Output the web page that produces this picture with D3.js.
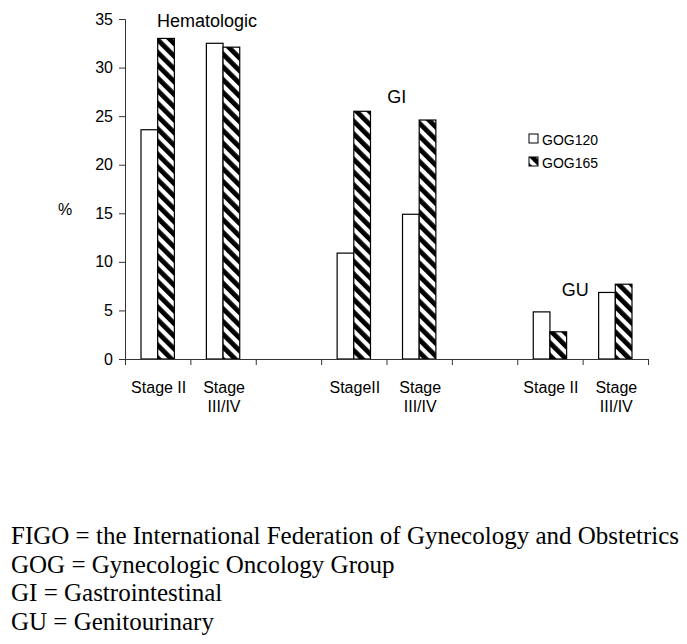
<!DOCTYPE html>
<html>
<head>
<meta charset="utf-8">
<script src="https://cdn.jsdelivr.net/npm/d3@7"></script>
<style>
  body { margin: 0; background: #fff; }
  svg { display: block; }
  .tick text { font-family: "Liberation Sans", Arial, sans-serif; font-size: 16px; fill: #000; }
</style>
</head>
<body>
<script>
// categories (empty ones are the gaps between groups)
let categories = [["Stage II"], ["Stage", "III/IV"], [""], ["StageII"], ["Stage", "III/IV"], [""], ["Stage II"], ["Stage", "III/IV"]];
let seriesNames = ["GOG120", "GOG165"];
let gog120 = [23.6, 32.5, null, 10.9, 14.9, null, 4.85, 6.85];
let gog165 = [33.0, 32.1, null, 25.5, 24.6, null, 2.8, 7.7];
let yTicks = [0, 5, 10, 15, 20, 25, 30, 35];
// group labels: x in category units, y in %
let groupLabels = [
  {text: "Hematologic", x: 0.49, y: 34.2},
  {text: "GI", x: 4.01, y: 26.35},
  {text: "GU", x: 6.68, y: 6.5}
];
let footnotes = [
  "FIGO = the International Federation of Gynecology and Obstetrics",
  "GOG = Gynecologic Oncology Group",
  "GI = Gastrointestinal",
  "GU = Genitourinary"
];

let width = 687, height = 644;
let margin = {top: 19, left: 125, right: 39, bottom: 285};

let svg = d3.select("body").append("svg")
    .attr("width", width)
    .attr("height", height);

svg.append("rect").attr("width", width).attr("height", height).attr("fill", "#fff");

// hatch pattern
let defs = svg.append("defs");
let pat = defs.append("pattern")
    .attr("id", "hatch")
    .attr("patternUnits", "userSpaceOnUse")
    .attr("width", 9)
    .attr("height", 9)
    .attr("patternTransform", "rotate(-45)");
pat.append("rect").attr("width", 9).attr("height", 9).attr("fill", "#fff");
pat.append("rect").attr("width", 4.8).attr("height", 9).attr("fill", "#000");

let x = d3.scaleBand()
    .domain(d3.range(categories.length))
    .range([margin.left, width - margin.right])
    .paddingInner(0).paddingOuter(0);

let xTicks = d3.scaleLinear()
    .domain([0, categories.length])
    .range([margin.left, width - margin.right]);

let xInner = d3.scaleBand()
    .domain(seriesNames)
    .range([0, x.bandwidth()])
    .paddingInner(0)
    .paddingOuter(0.96);

let y = d3.scaleLinear()
    .domain([0, 35])
    .range([height - margin.bottom, margin.top]);

let fills = {GOG120: "#fff", GOG165: "url(#hatch)"};

// y axis
let yAxis = svg.append("g")
    .attr("transform", "translate(" + margin.left + ",0)")
    .call(d3.axisLeft(y).tickValues(yTicks).tickSize(6).tickSizeOuter(6).tickPadding(6));
yAxis.selectAll("path, line").attr("stroke", "#333");

// bars
let rows = [];
categories.forEach((c, i) => {
  if (gog120[i] != null) rows.push({cat: i, s: "GOG120", v: gog120[i]});
  if (gog165[i] != null) rows.push({cat: i, s: "GOG165", v: gog165[i]});
});

svg.selectAll(".bar")
    .data(rows)
    .enter().append("rect")
    .attr("class", "bar")
    .attr("x", d => x(d.cat) + xInner(d.s))
    .attr("y", d => y(d.v))
    .attr("width", xInner.bandwidth())
    .attr("height", d => y(0) - y(d.v))
    .attr("fill", d => fills[d.s])
    .attr("stroke", "#000")
    .attr("stroke-width", 1.2);

// x axis (ticks on category boundaries)
let xAxis = svg.append("g")
    .attr("transform", "translate(0," + y(0) + ")")
    .call(d3.axisBottom(xTicks).tickValues(d3.range(categories.length + 1)).tickFormat("").tickSize(6).tickSizeOuter(0));
xAxis.selectAll("path, line").attr("stroke", "#333");

// x labels
let xl = svg.selectAll(".xlab")
    .data(categories)
    .enter().append("text")
    .attr("class", "xlab")
    .attr("text-anchor", "middle")
    .style("font-family", "'Liberation Sans', Arial, sans-serif")
    .style("font-size", "16px")
    .attr("transform", (d, i) => "translate(" + (x(i) + x.bandwidth() / 2 + 1) + "," + (y(0) + 34) + ")");
xl.selectAll("tspan")
    .data(d => d)
    .enter().append("tspan")
    .attr("x", 0)
    .attr("dy", (d, i) => i === 0 ? 0 : 19)
    .text(d => d);

// % label
svg.append("text")
    .attr("x", 65)
    .attr("y", 215)
    .attr("text-anchor", "middle")
    .style("font-family", "'Liberation Sans', Arial, sans-serif")
    .style("font-size", "16px")
    .text("%");

// group labels
svg.selectAll(".glab")
    .data(groupLabels)
    .enter().append("text")
    .attr("class", "glab")
    .attr("x", d => xTicks(d.x))
    .attr("y", d => y(d.y))
    .style("font-family", "'Liberation Sans', Arial, sans-serif")
    .style("font-size", "18px")
    .text(d => d.text);

// legend
let legend = svg.selectAll(".leg")
    .data(seriesNames)
    .enter().append("g")
    .attr("class", "leg")
    .attr("transform", (d, i) => "translate(529," + (134 + i * 23) + ")");
legend.append("rect")
    .attr("width", 9).attr("height", 9)
    .attr("fill", d => fills[d])
    .attr("stroke", "#000");
legend.append("text")
    .attr("x", 13)
    .attr("y", 10.5)
    .style("font-family", "'Liberation Sans', Arial, sans-serif")
    .style("font-size", "14px")
    .text(d => d);

// footnotes
svg.selectAll(".foot")
    .data(footnotes)
    .enter().append("text")
    .attr("class", "foot")
    .attr("x", 11)
    .attr("y", (d, i) => 544 + i * 28.7)
    .style("font-family", "'Liberation Serif', 'Times New Roman', serif")
    .style("font-size", "25px")
    .text(d => d);
</script>
</body>
</html>
